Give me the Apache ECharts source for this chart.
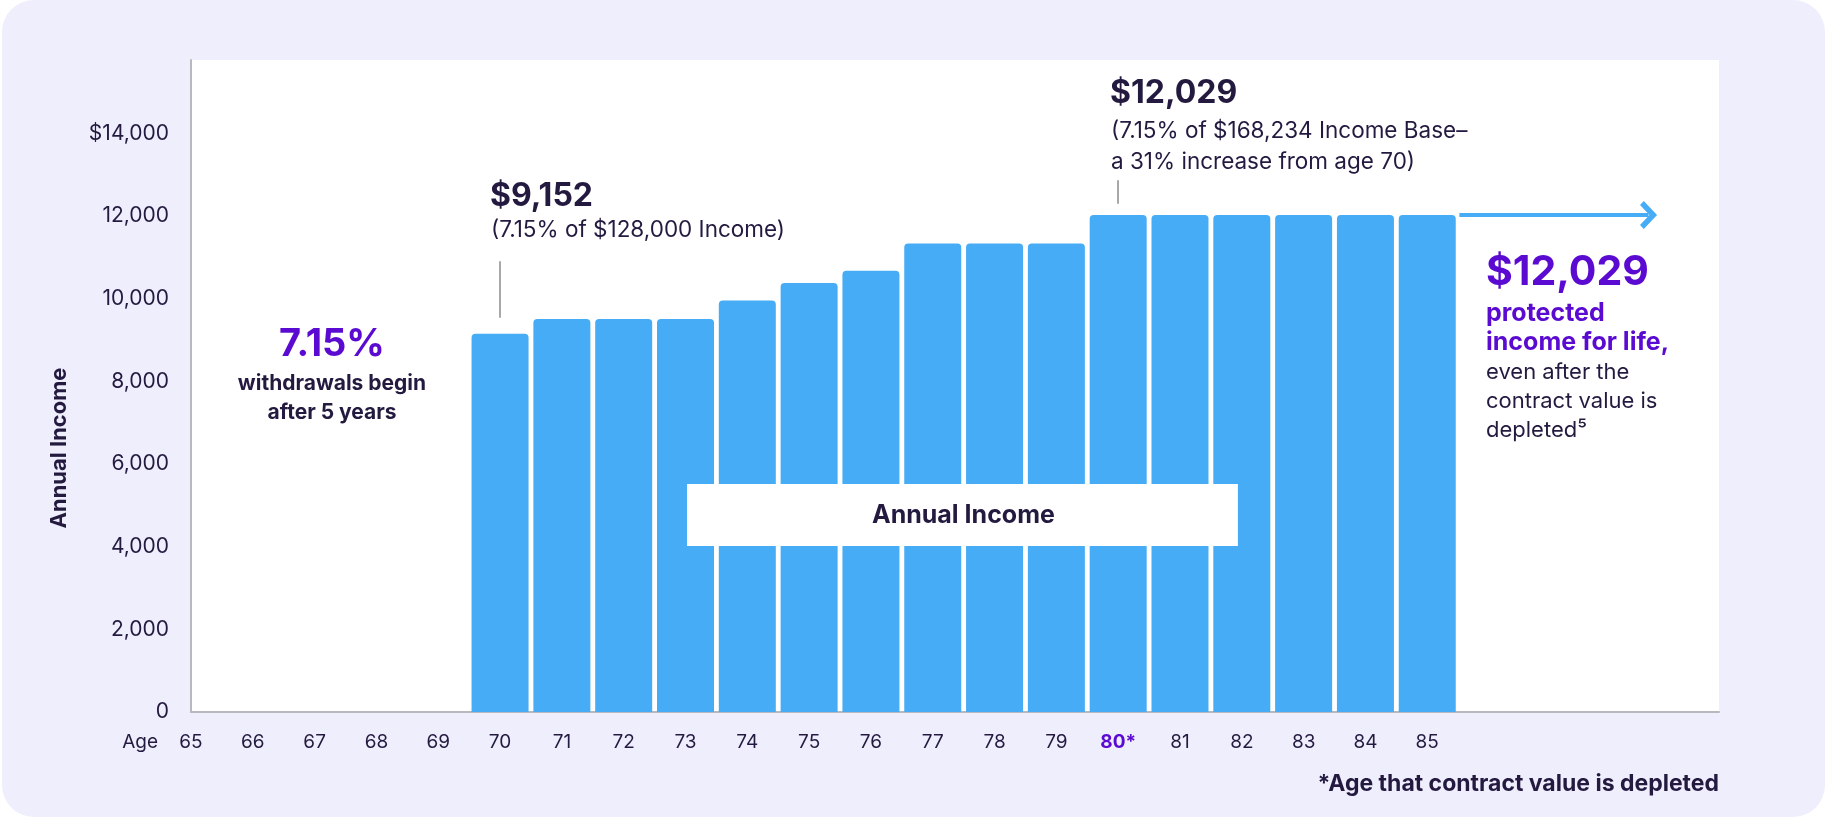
<!DOCTYPE html>
<html>
<head>
<meta charset="utf-8">
<script src="https://cdn.jsdelivr.net/npm/echarts@6/dist/echarts.min.js"></script>
<style>
  html, body { margin: 0; padding: 0; background: #ffffff; }
  #chart { position: absolute; left: 2px; top: 0; width: 1823px; height: 817px; background: #EFEEFC; border-radius: 32px; overflow: hidden; }
</style>
</head>
<body>
<div id="chart"></div>
<script>
// ---- data ----
const xTickLabels = [65, 66, 67, 68, 69, 70, 71, 72, 73, 74, 75, 76, 77, 78, 79, 80, 81, 82, 83, 84, 85];
const ages = [70, 71, 72, 73, 74, 75, 76, 77, 78, 79, 80, 81, 82, 83, 84, 85];
const income = [9152, 9510, 9510, 9510, 9960, 10380, 10680, 11340, 11340, 11340, 12029, 12029, 12029, 12029, 12029, 12029];
const yTicks = [0, 2000, 4000, 6000, 8000, 10000, 12000, 14000];
const depletedAge = 80;
const seriesName = 'Annual Income';

const FONT = 'Inter';
const DARK = '#241A40';
const PURPLE = '#5B0BD1';
const BLUE = '#45ACF5';
const GRAY = '#B8B8BE';

const chart = echarts.init(document.getElementById('chart'), null, { renderer: 'canvas' });
// chart div is offset by 2px; graphic coordinates below are relative to chart div
const OX = -2;

const option = {
  backgroundColor: 'transparent',
  textStyle: { fontFamily: FONT, color: DARK },
  animation: false,
  grid: { left: 191 + OX, right: 106, top: 60, bottom: 105, show: true, backgroundColor: '#ffffff', borderWidth: 0 },
  legend: {
    data: [seriesName],
    left: 687 + OX, top: 484,
    backgroundColor: '#ffffff',
    padding: [18, 183, 18, 180],
    itemWidth: 0, itemHeight: 0, itemGap: 0,
    icon: 'rect',
    selectedMode: false,
    textStyle: { fontFamily: FONT, fontSize: 25, fontWeight: 'bold', color: DARK, lineHeight: 26 }
  },
  xAxis: {
    type: 'value', min: 65, max: 89.72, interval: 1,
    axisLine: { show: true, lineStyle: { color: GRAY, width: 2 } },
    axisTick: { show: false },
    splitLine: { show: false },
    axisLabel: {
      margin: 21, fontFamily: FONT, fontSize: 19, color: DARK,
      formatter: v => {
        if (!xTickLabels.includes(v)) return '';
        return v === depletedAge ? '{d|' + v + '*}' : String(v);
      },
      rich: { d: { fontFamily: FONT, fontSize: 19, fontWeight: 'bold', color: PURPLE } }
    }
  },
  yAxis: {
    type: 'value', min: 0, max: 15780, interval: 2000,
    name: 'Annual Income', nameLocation: 'middle', nameGap: 121,
    nameTextStyle: { fontFamily: FONT, fontSize: 22, fontWeight: 'bold', color: DARK, padding: [0, 124, 0, 0] },
    axisLine: { show: true, lineStyle: { color: GRAY, width: 2 } },
    axisTick: { show: false },
    splitLine: { show: false },
    axisLabel: {
      margin: 22, fontFamily: FONT, fontSize: 21, color: DARK,
      formatter: v => {
        if (!yTicks.includes(v)) return '';
        const s = v.toLocaleString('en-US');
        return v === yTicks[yTicks.length - 1] ? '$' + s : s;
      }
    }
  },
  series: [{
    name: seriesName,
    type: 'bar',
    barWidth: 57,
    data: ages.map((a, i) => [a, income[i]]),
    itemStyle: { color: BLUE, borderRadius: [4, 4, 0, 0] },
    emphasis: { disabled: true },
    markLine: {
      silent: true,
      animation: false,
      label: { show: false },
      emphasis: { disabled: true },
      data: [
        [{ coord: [70, 9540], symbol: 'none', lineStyle: { color: '#A8A8A8', width: 2, type: 'solid' } },
         { coord: [70, 10910], symbol: 'none' }],
        [{ coord: [80, 12300], symbol: 'none', lineStyle: { color: '#A8A8A8', width: 2, type: 'solid' } },
         { coord: [80, 12870], symbol: 'none' }],
        [{ coord: [85.52, 12029], symbol: 'none', lineStyle: { color: BLUE, width: 4, type: 'solid' } },
         { coord: [88.58, 12029], symbol: 'path://M0,14 L14,0 L28,14 L24,18 L14,8 L4,18 Z', symbolSize: [28, 17] }]
      ]
    }
  }],
  graphic: [
    // x-axis name
    { type: 'text', x: 158 + OX, y: 742, style: { text: 'Age', font: '19px ' + FONT, fill: DARK, align: 'right', verticalAlign: 'middle' } },
    // annotation at age 70
    { type: 'text', left: 490 + OX, top: 180, style: { text: '$9,152', font: 'bold 32px ' + FONT, fill: DARK } },
    { type: 'text', left: 491 + OX, top: 219, style: { text: '(7.15% of $128,000 Income)', font: '22.5px ' + FONT, fill: DARK } },
    // annotation at age 80
    { type: 'text', left: 1110 + OX, top: 77, style: { text: '$12,029', font: 'bold 32px ' + FONT, fill: DARK } },
    { type: 'text', left: 1111 + OX, top: 116, style: { text: '(7.15% of $168,234 Income Base–\na 31% increase from age 70)', font: '22.5px ' + FONT, fill: DARK, lineHeight: 31 } },
    // left note
    { type: 'text', x: 332 + OX, y: 326, style: { text: '7.15%', font: 'bold 38px ' + FONT, fill: PURPLE, align: 'center' } },
    { type: 'text', x: 332 + OX, y: 369, style: { text: 'withdrawals begin\nafter 5 years', font: 'bold 21px ' + FONT, fill: DARK, align: 'center', lineHeight: 29 } },
    // right note
    { type: 'text', left: 1486 + OX, top: 252, style: { text: '$12,029', font: 'bold 41px ' + FONT, fill: PURPLE } },
    { type: 'text', left: 1486 + OX, top: 299, style: { text: 'protected\nincome for life,', font: 'bold 25px ' + FONT, fill: PURPLE, lineHeight: 29 } },
    { type: 'text', left: 1486 + OX, top: 358, style: { text: 'even after the\ncontract value is\ndepleted⁵', font: '22px ' + FONT, fill: DARK, lineHeight: 29 } },
    // footnote
    { type: 'text', right: 106, top: 773, style: { text: '*Age that contract value is depleted', font: 'bold 23px ' + FONT, fill: DARK } }
  ]
};
chart.setOption(option);
</script>
</body>
</html>
